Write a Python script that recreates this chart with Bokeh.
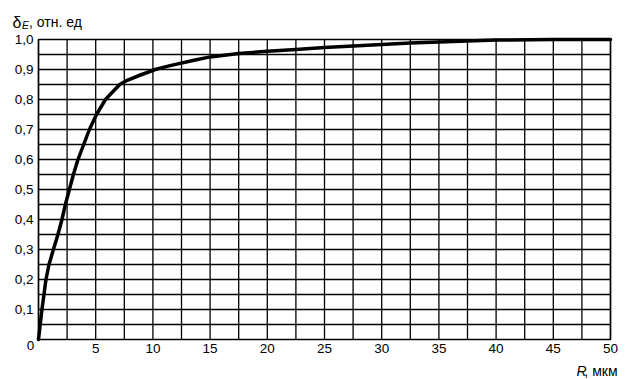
from bokeh.plotting import figure
from bokeh.models import Range1d
from bokeh.core.properties import value
from bokeh.embed import file_html
from bokeh.resources import INLINE

# Data
r_um = [0, 0.15, 0.3, 0.48, 0.65, 0.92, 1.3, 1.7, 2.05, 2.35, 2.7, 3.05, 3.45, 3.95,
        4.45, 5.07, 5.85, 6.6, 7.1, 7.75, 8.8, 10.2, 11.5, 13.5, 15, 17.5, 20, 22.5,
        25, 27.5, 30, 32.5, 35, 37.5, 40, 45, 50]
delta_e = [0, 0.05, 0.1, 0.15, 0.2, 0.25, 0.3, 0.35, 0.4, 0.45, 0.5, 0.55, 0.6, 0.65,
           0.7, 0.75, 0.8, 0.83, 0.85, 0.864, 0.88, 0.9, 0.913, 0.93, 0.942, 0.953,
           0.961, 0.967, 0.973, 0.978, 0.983, 0.988, 0.992, 0.995, 0.998, 1.0, 1.0]

x_ticks = [5, 10, 15, 20, 25, 30, 35, 40, 45, 50]
x_tick_labels = ["5", "10", "15", "20", "25", "30", "35", "40", "45", "50"]
y_ticks = [0.1, 0.2, 0.3, 0.4, 0.5, 0.6, 0.7, 0.8, 0.9, 1.0]
y_tick_labels = ["0,1", "0,2", "0,3", "0,4", "0,5", "0,6", "0,7", "0,8", "0,9", "1,0"]
origin_label = "0"
x_grid = [2.5 * i for i in range(1, 20)]
y_grid = [0.05 * i for i in range(1, 20)]
x_min, x_max = 0, 50
y_min, y_max = 0, 1

y_title_parts = ["δ", "E", ", отн. ед"]
x_title_parts = ["R", ", мкм"]

FONT = "Liberation Sans"
W, H = 625, 379
# plot frame placement in pixels
LEFT, RIGHT, TOP, BOTTOM = 38, 610, 39, 339
kx = (RIGHT - LEFT) / (x_max - x_min)
ky = (BOTTOM - TOP) / (y_max - y_min)

p = figure(width=W, height=H,
           x_range=Range1d(x_min - LEFT / kx, x_max + (W - RIGHT) / kx),
           y_range=Range1d(y_min - (H - BOTTOM) / ky, y_max + TOP / ky),
           output_backend="svg", toolbar_location=None,
           x_axis_location=None, y_axis_location=None,
           min_border_left=0, min_border_right=0, min_border_top=0, min_border_bottom=0)
p.grid.visible = False
p.outline_line_color = None
p.background_fill_color = "white"
p.border_fill_color = "white"


def px_x(px):
    return x_min + (px - LEFT) / kx


def px_y(px):
    return y_max - (px - TOP) / ky


# grid
p.segment(x0=x_grid, y0=[y_min] * len(x_grid), x1=x_grid, y1=[y_max] * len(x_grid),
          line_color="black", line_width=1.3)
p.segment(x0=[x_min] * len(y_grid), y0=y_grid, x1=[x_max] * len(y_grid), y1=y_grid,
          line_color="black", line_width=1.3)
# frame
p.quad(left=[x_min], right=[x_max], bottom=[y_min], top=[y_max], fill_color=None,
       line_color="black", line_width=1.7)

# curve
p.line(r_um, delta_e, line_color="black", line_width=3.5, line_join="round", line_cap="round")

# tick labels
p.text(x=x_ticks, y=[y_min] * len(x_ticks), text=x_tick_labels, text_font=value(FONT),
       text_font_size="13.5px", text_align="center", text_baseline="top", y_offset=4,
       text_color="black")
p.text(x=[x_min] * len(y_ticks), y=y_ticks, text=y_tick_labels, text_font=value(FONT),
       text_font_size="13.5px", text_align="right", text_baseline="middle", x_offset=-5,
       text_color="black")
p.text(x=[x_min], y=[y_min], text=[origin_label], text_font=value(FONT),
       text_font_size="13.5px", text_align="center", text_baseline="middle",
       x_offset=-8, y_offset=6, text_color="black")

# y-axis title
p.text(x=[px_x(12)], y=[px_y(21.5)], text=[y_title_parts[0]], text_font=value(FONT),
       text_font_size="16px", text_baseline="alphabetic", text_align="left", text_color="black")
p.text(x=[px_x(21.5)], y=[px_y(24)], text=[y_title_parts[1]], text_font=value(FONT),
       text_font_size="10.5px", text_font_style="italic", text_baseline="alphabetic",
       text_align="left", text_color="black")
p.text(x=[px_x(28.5)], y=[px_y(21.5)], text=[y_title_parts[2]], text_font=value(FONT),
       text_font_size="14px", text_baseline="alphabetic", text_align="left", text_color="black")

# x-axis title
p.text(x=[px_x(617)], y=[px_y(370)], text=[x_title_parts[1]], text_font=value(FONT),
       text_font_size="14px", text_baseline="alphabetic", text_align="right", text_color="black")
p.text(x=[px_x(586)], y=[px_y(370)], text=[x_title_parts[0]], text_font=value(FONT),
       text_font_size="14px", text_font_style="italic", text_baseline="alphabetic",
       text_align="right", text_color="black")

open("out.html", "w").write(file_html(p, INLINE))
